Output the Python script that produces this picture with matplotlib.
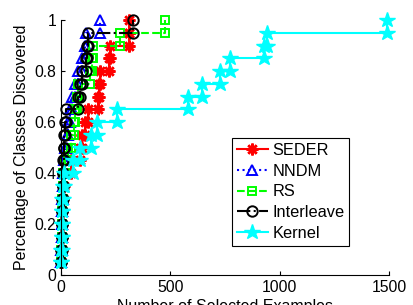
#!/usr/bin/env python3

import numpy as np
import matplotlib

matplotlib.use("Agg")
import matplotlib.pyplot as plt

plt.rcParams["font.family"] = ["Liberation Sans", "DejaVu Sans"]

# fraction of classes found (20 classes)
classes = np.arange(1, 21) / 20

# number of selected examples at which each class was discovered
seder_x = [1, 2, 3, 4, 5, 6, 8, 12, 45, 85, 95, 110, 125, 168, 175, 179, 218, 225, 309, 313]
nndm_x = [1, 2, 3, 4, 5, 6, 7, 10, 15, 20, 26, 33, 42, 52, 62, 78, 95, 108, 116, 177]
rs_x = [1, 2, 3, 4, 5, 6, 8, 11, 20, 32, 45, 58, 66, 72, 76, 132, 141, 147, 271, 477]
interleave_x = [1, 2, 3, 4, 5, 6, 7, 8, 10, 12, 14, 17, 22, 76, 87, 95, 113, 120, 122, 331]
kernel_x = [1, 2, 3, 4, 5, 6, 8, 15, 56, 87, 135, 164, 257, 580, 645, 725, 771, 928, 940, 1492]

names = ["SEDER", "NNDM", "RS", "Interleave", "Kernel"]
xticks = [0, 500, 1000, 1500]
yticks = [0, 0.2, 0.4, 0.6, 0.8, 1]
ytick_labels = ["0", "0.2", "0.4", "0.6", "0.8", "1"]


def stairs(x, y):
    # corner points of the staircase, a marker at every corner
    xs = np.repeat(x, 2)[1:]
    ys = np.repeat(y, 2)[:-1]
    return xs, ys


fig = plt.figure(figsize=(4.14, 3.05), dpi=100)
ax = fig.add_axes([61 / 414, 30 / 305, 328 / 414, 255 / 305])

styles = [
    dict(color="red", linestyle="-", marker=(8, 2, 0), markersize=8.5, markeredgewidth=1.8),
    dict(color="blue", linestyle=":", marker="^", markersize=7.5, markerfacecolor="none", markeredgewidth=1.4),
    dict(color=(0, 1, 0), linestyle="--", marker="s", markersize=6, markerfacecolor="none", markeredgewidth=1.4),
    dict(color="black", linestyle="-.", marker="o", markersize=7.5, markerfacecolor="none", markeredgewidth=1.4),
    dict(color=(0, 1, 1), linestyle="-", marker="*", markersize=11.5, markeredgewidth=1),
]
series = [seder_x, nndm_x, rs_x, interleave_x, kernel_x]

for name, xvals, st in zip(names, series, styles):
    xs, ys = stairs(xvals, classes)
    ax.plot(xs, ys, label=name, linewidth=1.5, clip_on=False, **st)

ax.set_xlim(0, 1500)
ax.set_ylim(0, 1)
ax.set_xticks(xticks)
ax.set_yticks(yticks)
ax.set_yticklabels(ytick_labels)
ax.tick_params(direction="in", length=3, labelsize=11.3, width=0.8)
ax.spines["top"].set_visible(False)
ax.spines["right"].set_visible(False)
ax.set_xlabel("Number of Selected Examples", fontsize=11.5, labelpad=3)
ax.set_ylabel("Percentage of Classes Discovered", fontsize=11.5, labelpad=4)

leg = fig.legend(
    loc="upper left",
    bbox_to_anchor=(232 / 414, 1 - 138 / 305),
    borderaxespad=0,
    fontsize=11.8,
    handlelength=1.9,
    handletextpad=0.25,
    borderpad=0.3,
    labelspacing=0.35,
    fancybox=False,
    framealpha=1,
    edgecolor="black",
)
leg.get_frame().set_linewidth(0.8)

plt.savefig("out.png", dpi=100)
